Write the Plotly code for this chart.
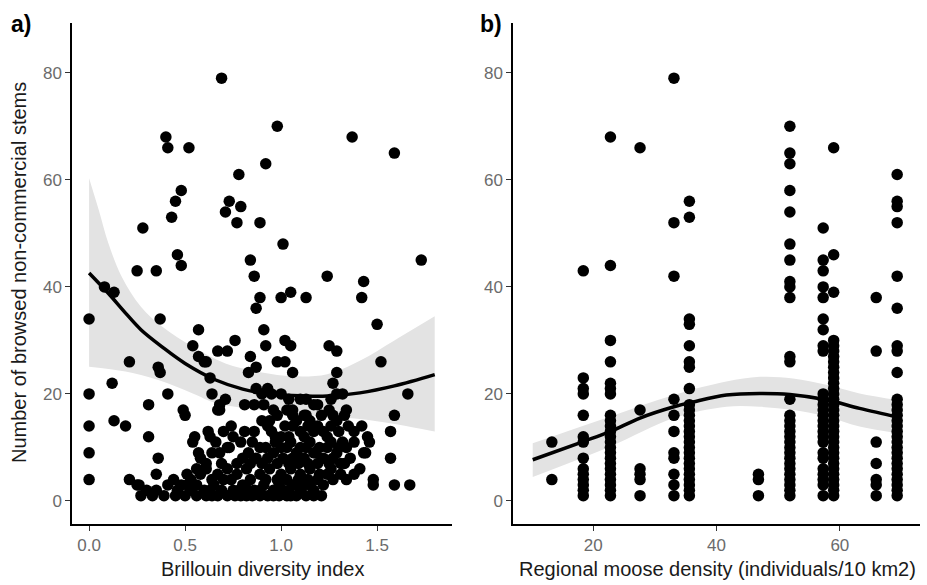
import plotly.graph_objects as go

# ---------------- Panel a data: Brillouin diversity vs browsed stems ----------------
div_upper = [0.69, 0.40, 0.41, 0.52, 0.98, 1.37, 1.59, 0.92, 0.78, 0.48, 0.45, 0.43, 0.73, 0.79,
             0.71, 0.77, 0.89, 0.28, 1.01, 0.46, 0.48, 0.25, 0.35, 0.84, 0.86, 1.24, 1.43, 1.73,
             0.08, 0.13, 0.00, 0.37, 0.89, 0.87, 1.00, 1.05, 1.13, 1.42, 1.50, 0.57, 0.91, 0.76,
             0.54, 0.67, 0.72, 0.92, 1.02, 1.05, 1.25, 1.29, 0.84, 0.57, 0.60, 0.61, 0.21, 0.36,
             0.37, 0.87, 0.83, 0.98, 1.02, 1.06, 1.29, 1.27, 1.52, 0.63, 0.12, 1.66, 0.00, 0.41,
             0.64, 0.31, 0.49, 0.50, 0.71, 0.68, 0.00, 0.13, 0.19, 0.31, 0.54, 0.00, 0.36, 0.00,
             0.21, 1.59, 1.57, 1.57, 1.44, 1.59, 1.67, 1.48, 1.48, 0.35]
stems_upper = [79, 68, 66, 66, 70, 68, 65, 63, 61, 58, 56, 53, 56, 55,
               54, 52, 52, 51, 48, 46, 44, 43, 43, 45, 42, 42, 41, 45,
               40, 39, 34, 34, 38, 36, 38, 39, 38, 38, 33, 32, 32, 30,
               29, 28, 28, 29, 30, 29, 29, 28, 27, 27, 26, 26, 26, 25,
               24, 25, 24, 26, 26, 24, 24, 22, 26, 23, 22, 20, 20, 20,
               20, 18, 17, 16, 19, 17, 14, 15, 14, 12, 11, 9, 8, 4,
               4, 16, 13, 8, 9, 3, 3, 4, 3, 5]

div_dense = [0.87, 0.93, 0.90, 0.95, 1.00, 1.04, 1.10, 1.13, 1.19, 1.26, 1.29, 1.32,
             0.81, 0.86, 0.91, 0.96, 1.03, 1.06, 1.13, 1.17, 1.25, 1.27, 1.34, 1.33, 0.68, 0.67,
             0.62, 0.63, 0.81, 0.93, 0.95, 1.00, 1.06, 1.10, 1.14, 1.19, 1.24, 1.26, 1.38, 1.42,
             1.45, 0.94, 1.06, 1.12,
             0.72, 0.79, 0.85, 0.89, 1.00, 1.05, 1.10, 1.15, 1.20, 1.26, 1.32, 1.34, 1.38, 1.46, 1.29,
             0.58, 0.64, 0.68, 0.73, 0.80, 0.87, 0.93, 0.96, 1.01, 1.06, 1.12, 1.17, 1.22, 1.27,
             1.33, 1.36, 1.43, 0.61, 0.69,
             0.51, 0.56, 0.61, 0.67, 0.72, 0.77, 0.82, 0.89, 0.94, 1.00, 1.05, 1.10, 1.15, 1.20,
             1.26, 1.31, 1.38, 1.41, 0.44, 0.25,
             0.26, 0.30, 0.35, 0.41, 0.46, 0.51, 0.56, 0.60, 0.65, 0.70, 0.75, 0.80, 0.86, 0.91,
             0.96, 1.01, 1.06, 1.12, 1.17, 1.22, 1.27, 1.34,
             0.27, 0.33, 0.39, 0.45, 0.56, 0.61, 0.67, 0.72, 0.79, 0.85, 0.93, 0.99, 1.08, 1.17,
             0.90, 0.98, 1.02, 1.08, 1.15, 1.21, 1.29,
             0.86, 0.97, 1.04, 1.12, 1.17, 1.22, 1.30, 1.35,
             0.83, 0.92, 0.97, 1.03, 1.08, 1.13, 1.18, 1.24, 1.30,
             0.77, 0.84, 0.90, 0.98, 1.04, 1.09, 1.14, 1.19, 1.25, 1.31,
             0.64, 0.74, 0.84, 0.92, 0.98, 1.03, 1.09, 1.14, 1.19, 1.24,
             0.53, 0.58, 0.48, 0.63, 0.69, 0.78, 0.83, 0.89, 0.99, 1.04, 1.10, 1.15,
             0.50, 0.53, 0.64, 0.76, 0.82, 0.89, 0.96, 1.03, 1.13, 1.21, 1.05,
             0.55, 0.70, 0.75, 0.66, 0.57, 0.74]
stems_dense = [21, 21, 20, 20, 20, 19, 19, 19, 18, 19, 20, 20,
               18, 18, 18, 17, 17, 17, 16, 18, 17, 16, 17, 16, 18, 17,
               13, 12, 13, 14, 13, 12, 14, 13, 14, 14, 12, 14, 13, 14,
               12, 15, 16, 16,
               10, 11, 11, 10, 10, 11, 10, 11, 10, 11, 11, 10, 11, 11, 9,
               8, 9, 9, 10, 8, 8, 8, 9, 8, 8, 8, 9, 8, 8,
               7, 8, 9, 7, 7,
               5, 6, 6, 5, 6, 5, 6, 5, 6, 5, 6, 5, 6, 5,
               6, 5, 5, 6, 4, 3,
               3, 2, 2, 3, 2, 3, 3, 2, 3, 4, 2, 3, 2, 3,
               2, 2, 3, 3, 2, 3, 4, 4,
               1, 1, 1, 1, 1, 1, 1, 1, 1, 1, 1, 1, 1, 1,
               15, 16, 14, 15, 15, 16, 15,
               13, 12, 12, 12, 13, 13, 13, 14,
               9, 10, 11, 10, 9, 10, 9, 10, 10,
               7, 7, 7, 7, 7, 7, 7, 7, 7, 7,
               4, 4, 4, 4, 4, 4, 4, 4, 4, 5,
               4, 5, 3, 2, 2, 2, 2, 2, 3, 2, 2, 3,
               1, 2, 1, 1, 1, 1, 1, 1, 1, 1, 1,
               12, 13, 12, 11, 9, 14]

# fitted quadratic trend and its confidence band
fit_a_x = [0.00, 0.10, 0.19, 0.27, 0.38, 0.50, 0.66, 0.80, 0.92, 1.06, 1.24, 1.41, 1.59, 1.80]
fit_a_y = [42.6, 38.8, 35.1, 32.0, 28.8, 25.7, 22.6, 20.9, 20.1, 19.7, 19.6, 20.2, 21.5, 23.6]
fit_a_hi_x = [0.00, 0.05, 0.10, 0.17, 0.27, 0.38, 0.54, 0.71, 0.90, 1.06, 1.24, 1.41, 1.59, 1.80]
fit_a_hi = [60.3, 54.4, 48.2, 41.9, 36.3, 32.6, 28.8, 25.7, 24.0, 23.3, 23.7, 26.2, 30.0, 34.5]
fit_a_lo_x = [0.00, 0.19, 0.36, 0.54, 0.66, 0.89, 1.06, 1.24, 1.41, 1.59, 1.80]
fit_a_lo = [25.1, 24.2, 22.6, 20.1, 18.3, 17.0, 16.2, 15.8, 15.3, 14.4, 13.0]

# ---------------- Panel b data: regional moose density vs browsed stems ----------------
site_density = [13.3, 18.4, 22.8, 27.6, 33.1, 35.6, 46.8, 51.9, 57.3, 59.0, 65.9, 69.3]
site_stems = [
    [11, 4],
    [43, 23, 21, 20, 16, 12, 11, 8, 6, 5, 4, 3, 2, 1],
    [68, 44, 30, 26, 22, 21, 20, 16, 15, 14, 13, 12, 11, 10, 9, 8, 7, 6, 5, 4, 3, 2, 1],
    [66, 17, 6, 5, 4, 1],
    [79, 52, 42, 19, 16, 13, 9, 8, 5, 3, 1],
    [56, 53, 34, 33, 29, 26, 25, 21, 18, 17, 16, 15, 14, 13, 12, 11, 10, 9, 8, 7, 6, 5, 4, 3, 2, 1],
    [5, 4, 1],
    [70, 65, 63, 58, 54, 48, 45, 41, 40, 38, 27, 26, 19, 16, 15, 14, 13, 12, 11, 10, 9, 8, 7, 6,
     5, 4, 3, 2, 1],
    [51, 45, 43, 40, 38, 34, 32, 29, 28, 20, 19, 18, 17, 16, 15, 14, 13, 12, 11, 9, 8, 6, 5, 4, 3, 1],
    [66, 46, 39, 30, 29, 28, 27, 26, 25, 24, 23, 22, 21, 20, 19, 18, 17, 16, 15, 14, 13, 12, 11,
     10, 9, 8, 7, 6, 5, 4, 3, 2, 1],
    [38, 28, 11, 7, 4, 3, 1],
    [61, 56, 55, 52, 42, 36, 29, 28, 24, 19, 18, 17, 16, 15, 14, 13, 12, 11, 10, 9, 8, 7, 6, 5, 4,
     3, 2, 1],
]

fit_b_x = [10.2, 18.4, 22.8, 27.6, 33.1, 36.2, 41.6, 47.0, 51.9, 57.8, 63.2, 69.7]
fit_b_y = [7.7, 11.1, 13.0, 15.5, 17.6, 18.5, 19.8, 20.1, 19.9, 18.9, 17.3, 15.6]
fit_b_band_x = [10.2, 22.8, 33.1, 41.6, 47.0, 52.4, 57.8, 63.2, 69.7]
fit_b_lo = [4.5, 10.2, 15.5, 17.6, 17.6, 17.0, 15.8, 13.9, 12.6]
fit_b_hi = [10.8, 15.8, 19.8, 22.3, 23.2, 22.9, 21.7, 20.1, 18.8]

# ---------------- Build figure ----------------
W, H = 927, 585
div_all = div_upper + div_dense
stems_all = stems_upper + stems_dense
dens_all = [d for d, s in zip(site_density, site_stems) for _ in s]
stems_b = [v for s in site_stems for v in s]

RIB = "#e3e3e3"
MS = 11.5
fig = go.Figure()

# panel a ribbon
fig.add_trace(go.Scatter(x=fit_a_lo_x, y=fit_a_lo, mode="lines", line=dict(width=0, color=RIB, shape="spline"),
                         xaxis="x", yaxis="y", showlegend=False, hoverinfo="skip"))
fig.add_trace(go.Scatter(x=fit_a_hi_x, y=fit_a_hi, mode="lines", line=dict(width=0, color=RIB, shape="spline"),
                         fill="tonexty", fillcolor=RIB, xaxis="x", yaxis="y", showlegend=False, hoverinfo="skip"))
fig.add_trace(go.Scatter(x=div_all, y=stems_all, mode="markers",
                         marker=dict(size=MS, color="black", line=dict(width=0)),
                         xaxis="x", yaxis="y", showlegend=False))
fig.add_trace(go.Scatter(x=fit_a_x, y=fit_a_y, mode="lines", line=dict(width=3.5, color="black", shape="spline"),
                         xaxis="x", yaxis="y", showlegend=False))

# panel b ribbon
fig.add_trace(go.Scatter(x=fit_b_band_x, y=fit_b_lo, mode="lines", line=dict(width=0, color=RIB, shape="spline"),
                         xaxis="x2", yaxis="y2", showlegend=False, hoverinfo="skip"))
fig.add_trace(go.Scatter(x=fit_b_band_x, y=fit_b_hi, mode="lines", line=dict(width=0, color=RIB, shape="spline"),
                         fill="tonexty", fillcolor=RIB, xaxis="x2", yaxis="y2", showlegend=False, hoverinfo="skip"))
fig.add_trace(go.Scatter(x=dens_all, y=stems_b, mode="markers",
                         marker=dict(size=MS, color="black", line=dict(width=0)),
                         xaxis="x2", yaxis="y2", showlegend=False))
fig.add_trace(go.Scatter(x=fit_b_x, y=fit_b_y, mode="lines", line=dict(width=3.5, color="black", shape="spline"),
                         xaxis="x2", yaxis="y2", showlegend=False))

FONT = "Liberation Sans, Arial, sans-serif"
TICKC = "#6b6b6b"
axis_common = dict(showline=True, linecolor="black", linewidth=1.5, mirror=False,
                   showgrid=False, zeroline=False, ticks="outside", ticklen=5, tickwidth=1.3,
                   tickcolor="#333333", tickfont=dict(family=FONT, size=17, color=TICKC))

y_dom = [1 - 524 / H, 1 - 23 / H]
fig.update_layout(
    width=W, height=H, margin=dict(l=0, r=0, t=0, b=0),
    paper_bgcolor="white", plot_bgcolor="white",
    xaxis=dict(domain=[72 / W, 452 / W], range=[-0.089, 1.89], tickvals=[0, 0.5, 1.0, 1.5],
               ticktext=["0.0", "0.5", "1.0", "1.5"], anchor="y", **axis_common),
    yaxis=dict(domain=y_dom, range=[-4.3, 89.3], tickvals=[0, 20, 40, 60, 80], anchor="x", **axis_common),
    xaxis2=dict(domain=[513 / W, 920 / W], range=[7, 73], tickvals=[20, 40, 60], anchor="y2", **axis_common),
    yaxis2=dict(domain=y_dom, range=[-4.3, 89.3], tickvals=[0, 20, 40, 60, 80], anchor="x2", **axis_common),
    annotations=[
        dict(text="<b>a)</b>", x=9 / W, y=1 - 24 / H, xref="paper", yref="paper", xanchor="left",
             yanchor="middle", showarrow=False, font=dict(family=FONT, size=23, color="black")),
        dict(text="<b>b)</b>", x=478 / W, y=1 - 24 / H, xref="paper", yref="paper", xanchor="left",
             yanchor="middle", showarrow=False, font=dict(family=FONT, size=23, color="black")),
        dict(text="Number of browsed non-commercial stems", x=19 / W, y=1 - 273 / H, xref="paper",
             yref="paper", xanchor="center", yanchor="middle", textangle=-90, showarrow=False,
             font=dict(family=FONT, size=20, color="#1a1a1a")),
        dict(text="Brillouin diversity index", x=262 / W, y=1 - 569 / H, xref="paper", yref="paper",
             xanchor="center", yanchor="middle", showarrow=False,
             font=dict(family=FONT, size=20, color="#1a1a1a")),
        dict(text="Regional moose density (individuals/10 km2)", x=717 / W, y=1 - 569 / H, xref="paper",
             yref="paper", xanchor="center", yanchor="middle", showarrow=False,
             font=dict(family=FONT, size=20, color="#1a1a1a")),
    ],
)

fig.write_html("out.html")
